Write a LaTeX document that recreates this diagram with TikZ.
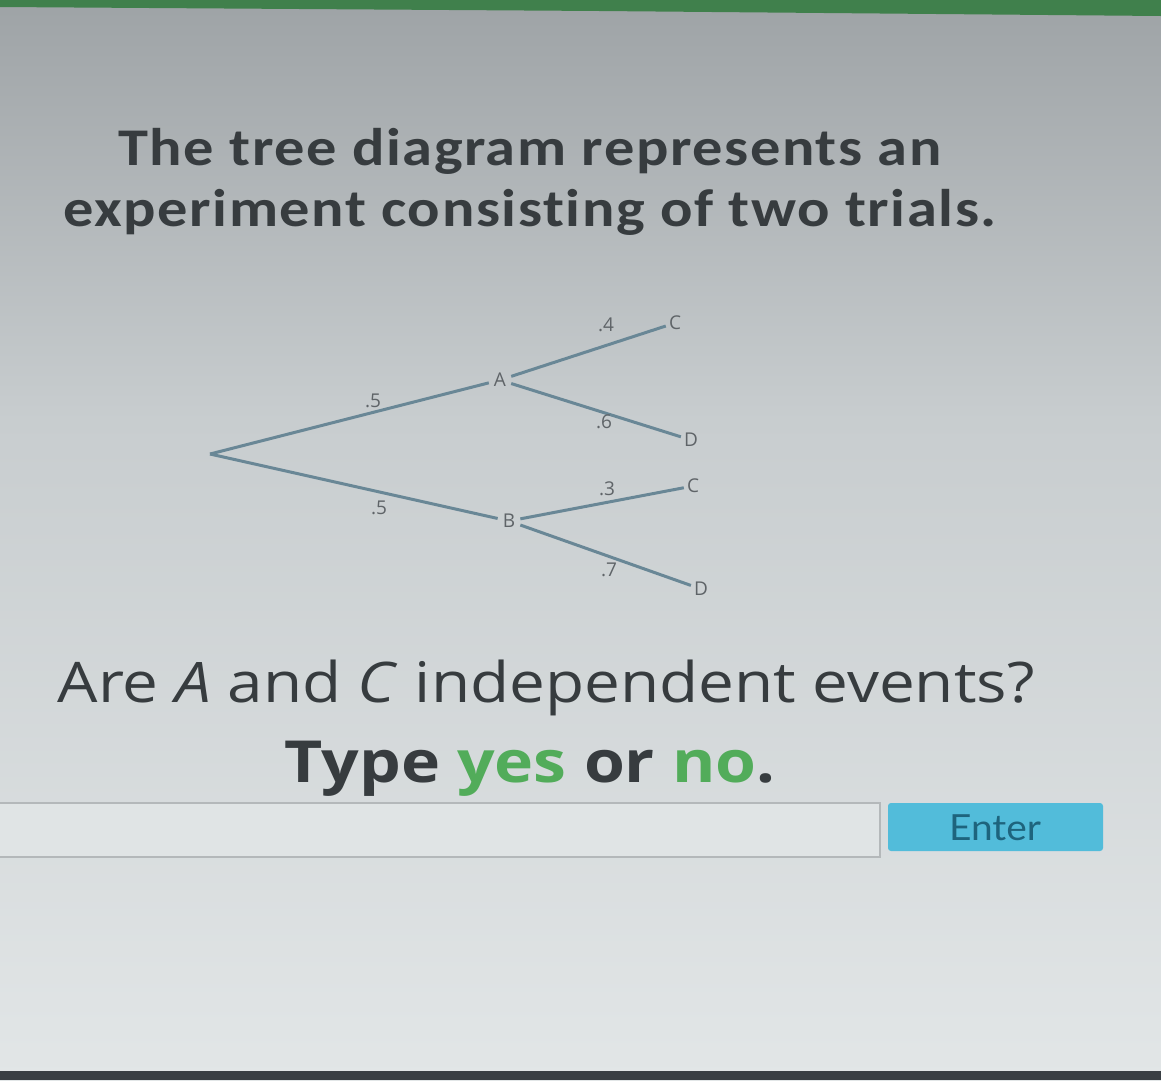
\documentclass[tikz,border=0pt]{standalone}
\usepackage{fontspec}
\setmainfont[FakeStretch=1.14]{Open Sans}
\newfontfamily\treefont{Open Sans}
\newfontfamily\titlefont[LetterSpace=3,FakeStretch=1.14,Ligatures=NoCommon]{Carlito}
\newfontfamily\btnfont[FakeStretch=1.08]{Lato}
\definecolor{bgtop}{RGB}{158,163,166}
\definecolor{bgmid}{RGB}{200,205,207}
\definecolor{bgbot}{RGB}{226,230,231}
\definecolor{topgreen}{RGB}{64,128,76}
\definecolor{botdark}{RGB}{58,63,68}
\definecolor{txt}{RGB}{55,60,63}
\definecolor{ansgreen}{RGB}{82,172,90}
\definecolor{treeline}{RGB}{105,135,150}
\definecolor{treetxt}{RGB}{95,100,104}
\definecolor{boxfill}{RGB}{224,228,229}
\definecolor{boxline}{RGB}{180,184,186}
\definecolor{btnfill}{RGB}{82,188,218}
\definecolor{btntxt}{RGB}{30,100,125}
\tikzset{
  branch/.style={draw=treeline, line width=3pt},
  tnode/.style={text=treetxt, font=\treefont\fontsize{19}{19}\selectfont, inner sep=5pt},
  plabel/.style={text=treetxt, font=\treefont\fontsize{19}{19}\selectfont, inner sep=0pt},
}
\begin{document}
\begin{tikzpicture}[x=1pt,y=-1pt]
\useasboundingbox (0,0) rectangle (1161,1080);
% background
\shade[top color=bgtop, bottom color=bgmid] (0,0) rectangle (1161,420);
\shade[top color=bgmid, bottom color=bgbot] (0,420) rectangle (1161,1080);
\fill[topgreen] (0,0) -- (1161,0) -- (1161,16) -- (600,11) -- (0,7) -- cycle;
\fill[botdark] (0,1071) rectangle (1161,1080);
% title
\node[anchor=base, text=txt, font=\titlefont\bfseries\fontsize{53}{53}\selectfont, inner sep=0pt] (t1) at (530,165) {The tree diagram represents an};
\node[anchor=base, text=txt, font=\titlefont\bfseries\fontsize{53}{53}\selectfont, inner sep=0pt] (t2) at (530,226) {experiment consisting of two trials.};
% tree
\coordinate (root) at (210,454);
\node[tnode] (A) at (500,380) {A};
\node[tnode] (B) at (509,521) {B};
\node[tnode, inner sep=3pt] (C1) at (675,323) {C};
\node[tnode, inner sep=3pt] (D1) at (691,440) {D};
\node[tnode, inner sep=3pt] (C2) at (693,486) {C};
\node[tnode, inner sep=3pt] (D2) at (701,589) {D};
\draw[branch] (root) -- (A);
\draw[branch] (root) -- (B);
\draw[branch] (A) -- (C1);
\draw[branch] (A) -- (D1);
\draw[branch] (B) -- (C2);
\draw[branch] (B) -- (D2);
\node[plabel] (l1) at (373,401) {.5};
\node[plabel] (l2) at (379,508) {.5};
\node[plabel] (l3) at (606,325) {.4};
\node[plabel] (l4) at (604,422) {.6};
\node[plabel] (l5) at (607,489) {.3};
\node[plabel] (l6) at (609,570) {.7};
% question
\node[anchor=base, text=txt, font=\fontsize{56}{56}\selectfont, inner sep=0pt] (q1) at (546,702) {Are \textit{A} and \textit{C} independent events?};
\node[anchor=base, text=txt, font=\bfseries\fontsize{58}{58}\selectfont, inner sep=0pt] (q2) at (530,782) {Type \textcolor{ansgreen}{yes} or \textcolor{ansgreen}{no}.};
% input and button
\node[draw=boxline, fill=boxfill, line width=1.5pt, minimum width=900pt, minimum height=54pt, inner sep=0pt] (box) at (430,830) {};
\node[fill=btnfill, rounded corners=3pt, minimum width=215pt, minimum height=48pt, inner sep=0pt] (btn) at (995.5,827) {};
\node[anchor=base, text=btntxt, font=\btnfont\fontsize{36}{36}\selectfont, inner sep=0pt] (btntext) at (995,840) {Enter};
\end{tikzpicture}
\end{document}
